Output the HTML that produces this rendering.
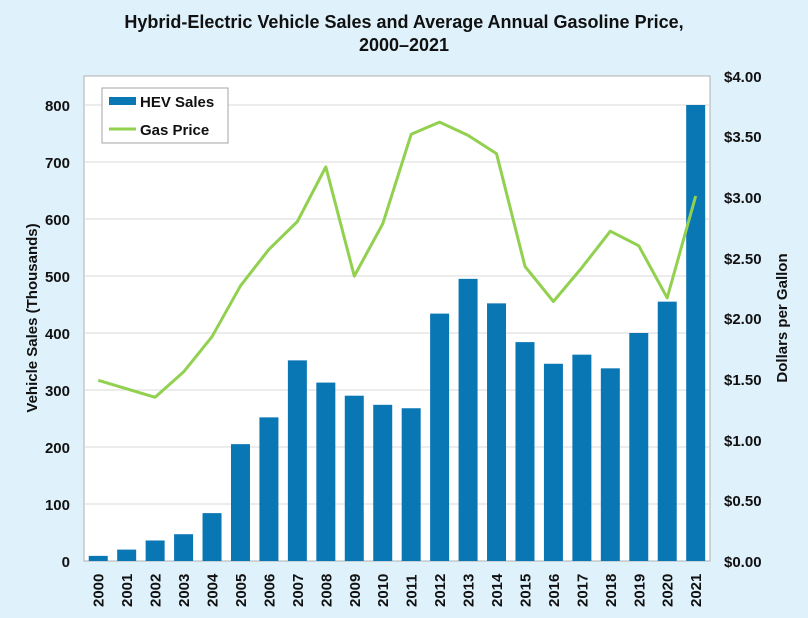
<!DOCTYPE html>
<html><head><meta charset="utf-8"><style>
html,body{margin:0;padding:0;background:#dff1fb;}
svg{display:block;font-family:"Liberation Sans",Arial,sans-serif;}
</style></head><body>
<svg width="808" height="618" viewBox="0 0 808 618" xmlns="http://www.w3.org/2000/svg">
<rect x="0" y="0" width="808" height="618" fill="#dff1fb"/>
<text x="404" y="28" text-anchor="middle" font-size="18" font-weight="bold" fill="#111">Hybrid-Electric Vehicle Sales and Average Annual Gasoline Price,</text>
<text x="404" y="51" text-anchor="middle" font-size="18" font-weight="bold" fill="#111">2000–2021</text>
<rect x="84" y="76" width="626" height="485" fill="#fff" stroke="#b0b0b0" stroke-width="1"/>
<g stroke="#d9d9d9" stroke-width="1">
<line x1="84" x2="710" y1="504" y2="504"/><line x1="84" x2="710" y1="447" y2="447"/>
<line x1="84" x2="710" y1="390" y2="390"/><line x1="84" x2="710" y1="333" y2="333"/>
<line x1="84" x2="710" y1="276" y2="276"/><line x1="84" x2="710" y1="219" y2="219"/>
<line x1="84" x2="710" y1="162" y2="162"/><line x1="84" x2="710" y1="105" y2="105"/>
</g>
<g font-size="15" font-weight="bold" fill="#111" text-anchor="end">
<text x="70" y="567">0</text><text x="70" y="510">100</text><text x="70" y="453">200</text>
<text x="70" y="396">300</text><text x="70" y="339">400</text><text x="70" y="282">500</text>
<text x="70" y="225">600</text><text x="70" y="168">700</text><text x="70" y="111">800</text>
</g>
<g font-size="15" font-weight="bold" fill="#111" text-anchor="start">
<text x="724" y="567">$0.00</text><text x="724" y="506">$0.50</text><text x="724" y="446">$1.00</text>
<text x="724" y="385">$1.50</text><text x="724" y="324">$2.00</text><text x="724" y="264">$2.50</text>
<text x="724" y="203">$3.00</text><text x="724" y="142">$3.50</text><text x="724" y="82">$4.00</text>
</g>
<text transform="translate(37,318) rotate(-90)" text-anchor="middle" font-size="15" font-weight="bold" fill="#111">Vehicle Sales (Thousands)</text>
<text transform="translate(787,318) rotate(-90)" text-anchor="middle" font-size="15" font-weight="bold" fill="#111">Dollars per Gallon</text>
<g id="bars" fill="#0a77b5"></g>
<g id="xl" font-size="15" font-weight="bold" fill="#111"></g>
<polyline id="gas" fill="none" stroke="#92d050" stroke-width="3" stroke-linejoin="round"/>
<rect x="102" y="88" width="126" height="55" fill="#fff" stroke="#a6a6a6"/>
<rect x="109" y="97" width="27" height="8" fill="#0a77b5"/>
<text x="140" y="107" font-size="15" font-weight="bold" fill="#111">HEV Sales</text>
<line x1="109" x2="136" y1="129" y2="129" stroke="#92d050" stroke-width="3"/>
<text x="140" y="135" font-size="15" font-weight="bold" fill="#111">Gas Price</text>
<script>
var s=[9,20,36,47,84,205,252,352,313,290,274,268,434,495,452,384,346,362,338,400,455,800];
var g=[1.49,1.42,1.35,1.56,1.85,2.27,2.57,2.80,3.25,2.35,2.78,3.52,3.62,3.51,3.36,2.43,2.14,2.42,2.72,2.60,2.17,3.01];
var ns="http://www.w3.org/2000/svg",b=document.getElementById('bars'),xl=document.getElementById('xl'),pts=[];
for(var i=0;i<22;i++){var cx=84+28.45*(i+0.5);
var r=document.createElementNS(ns,'rect');var h=s[i]*0.57;
r.setAttribute('x',cx-9.5);r.setAttribute('width',19);r.setAttribute('y',561-h);r.setAttribute('height',h);b.appendChild(r);
var t=document.createElementNS(ns,'text');t.setAttribute('transform','translate('+(cx+5.5)+',607) rotate(-90)');t.textContent=2000+i;xl.appendChild(t);
pts.push(cx.toFixed(1)+','+(561-g[i]*121.25).toFixed(1));}
document.getElementById('gas').setAttribute('points',pts.join(' '));
</script>
</svg>
</body></html>
